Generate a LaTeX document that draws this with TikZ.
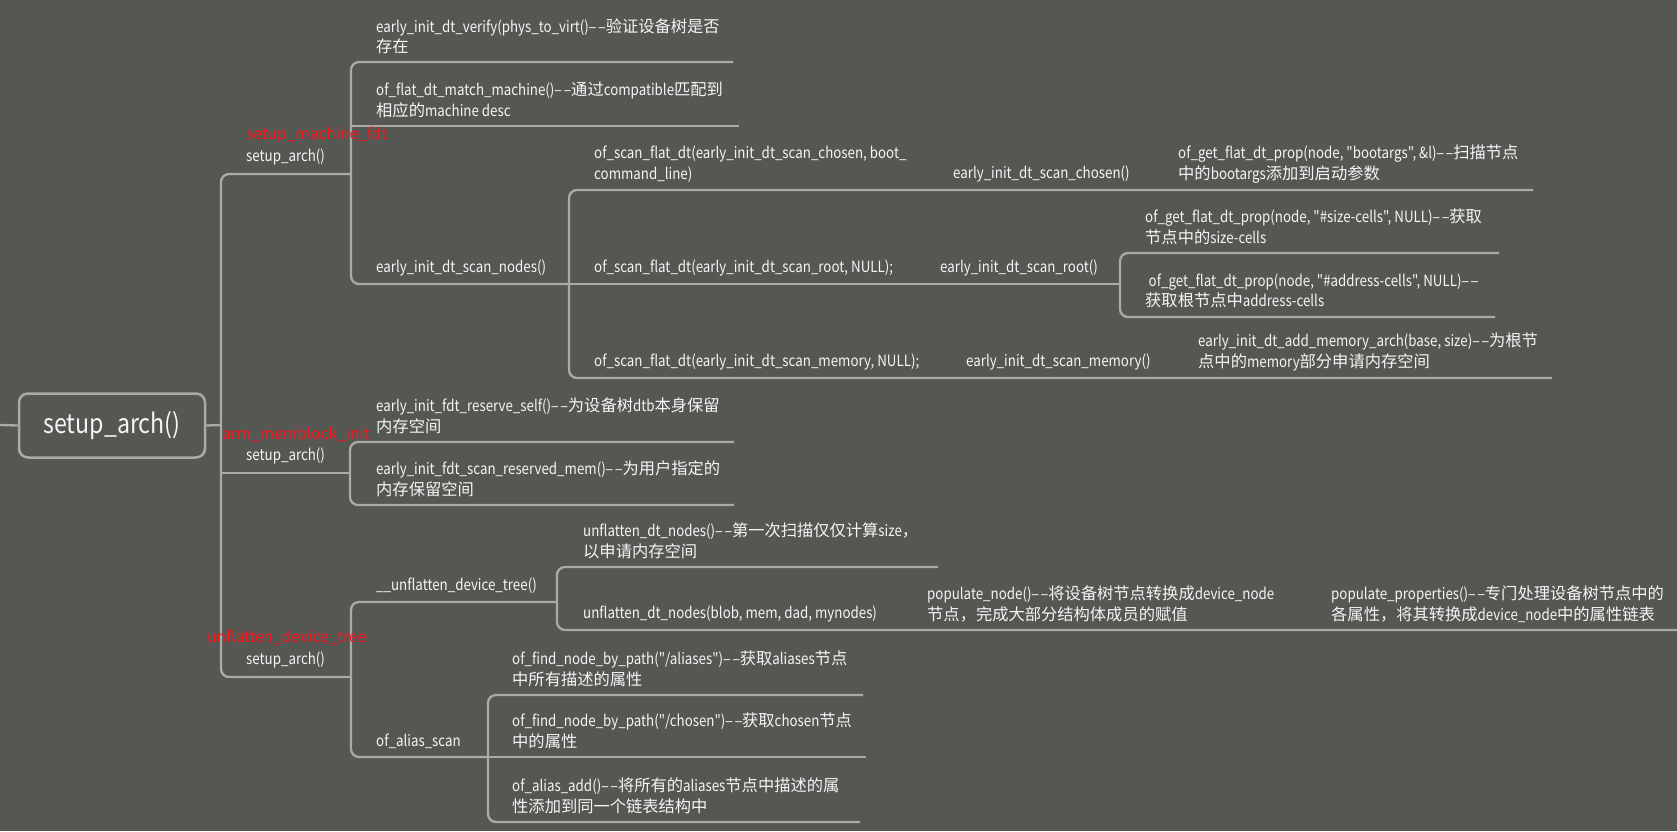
\documentclass[tikz,border=0pt]{standalone}
\usepackage{fontspec}
\usepackage{graphicx}
\setmainfont{Noto Sans CJK SC}
\newfontfamily\lat{Noto Sans CJK SC}[FakeStretch=0.86]
\newfontfamily\zhf{Noto Sans CJK SC}[Scale=1.05]
\newfontfamily\redf{Noto Sans CJK SC}
\newcommand\zh[1]{{\zhf #1}}
\newcommand\dd{\mbox{\scalebox{0.62}[1]{—}\kern2pt\scalebox{0.62}[1]{—}}}
\definecolor{bg}{RGB}{85,87,83}
\definecolor{ln}{RGB}{170,170,168}
\definecolor{tx}{RGB}{245,245,245}
\definecolor{rd}{RGB}{255,20,30}
\begin{document}
\begin{tikzpicture}[x=1pt,y=-1pt,
  line/.style={draw=ln,line width=2.3pt,rounded corners=8pt},
  txt/.style={text=tx,anchor=west,align=left,inner sep=0pt,font=\lat\fontsize{15.5}{20.5}\selectfont},
  redtxt/.style={text=rd,anchor=west,inner sep=0pt,font=\redf\fontsize{15.5}{20.5}\selectfont},
  rootbox/.style={draw=ln,line width=2.5pt,rounded corners=9pt,fill=bg,text=tx,minimum width=186pt,minimum height=64pt,font=\lat\fontsize{27}{30}\selectfont}]
\fill[bg] (0,0) rectangle (1677,831);
\useasboundingbox (0,0) rectangle (1677,831);

% ---------- coordinates ----------
\coordinate (left) at (0,425);
\coordinate (rootj) at (221,425);
\coordinate (fdt-l) at (221,174); \coordinate (fdt-r) at (351,174);
\coordinate (mb-l) at (221,473);  \coordinate (mb-r) at (350,473);
\coordinate (uf-l) at (221,677);  \coordinate (uf-r) at (351,677);
\coordinate (ver-l) at (351,62);  \coordinate (ver-r) at (733,62);
\coordinate (mat-l) at (351,126); \coordinate (mat-r) at (739,126);
\coordinate (sn-l) at (351,284);  \coordinate (sn-r) at (569,284);
\coordinate (ch-l) at (569,190);  \coordinate (ch-r) at (1533,190);
\coordinate (rt-r) at (1120,284);
\coordinate (mem-l) at (569,378); \coordinate (mem-r) at (1552,378);
\coordinate (sz-l) at (1120,253); \coordinate (sz-r) at (1499,253);
\coordinate (ad-l) at (1120,317); \coordinate (ad-r) at (1495,317);
\coordinate (rs-l) at (350,442);  \coordinate (rs-r) at (734,442);
\coordinate (rm-l) at (350,505);  \coordinate (rm-r) at (734,505);
\coordinate (uu-l) at (351,602);  \coordinate (uu-r) at (557,602);
\coordinate (as-l) at (351,757);  \coordinate (as-r) at (488,757);
\coordinate (u1-l) at (557,567);  \coordinate (u1-r) at (938,567);
\coordinate (u2-l) at (557,630);  \coordinate (u2-r) at (1677,630);
\coordinate (al-l) at (488,695);  \coordinate (al-r) at (863,695);
\coordinate (cs-l) at (488,757);  \coordinate (cs-r) at (866,757);
\coordinate (aa-l) at (488,822);  \coordinate (aa-r) at (860,822);

% ---------- root ----------
\node[rootbox] (root) at (112,425.5) {setup\_arch()};

% ---------- connectors ----------
\draw[line] (left) -- (root.west);
\draw[line] (root.east) -- (rootj);
\draw[line] (fdt-r) -- (fdt-l) -- (uf-l) -- (uf-r);
\draw[line] (mb-l) -- (mb-r);
\draw[line] (ver-r) -- (ver-l) -- (sn-l) -- (sn-r);
\draw[line] (mat-l) -- (mat-r);
\draw[line] (ch-r) -- (ch-l) -- (mem-l) -- (mem-r);
\draw[line] (sn-r) -- (rt-r);
\draw[line] (sz-r) -- (sz-l) -- (ad-l) -- (ad-r);
\draw[line] (rs-r) -- (rs-l) -- (rm-l) -- (rm-r);
\draw[line] (uu-r) -- (uu-l) -- (as-l) -- (as-r);
\draw[line] (u1-r) -- (u1-l) -- (u2-l) -- (u2-r);
\draw[line] (al-r) -- (al-l) -- (aa-l) -- (aa-r);
\draw[line] (cs-l) -- (cs-r);

% ---------- setup_machine_fdt branch ----------
\node[redtxt] (fdtred) at (246,135) {setup\_machine\_fdt};
\node[txt] (fdt) at (246,157) {setup\_arch()};
\node[txt] (verify) at (376,36) {early\_init\_dt\_verify(phys\_to\_virt()\dd\zh{验证设备树是否}\\\zh{存在}};
\node[txt] (match) at (376,100) {of\_flat\_dt\_match\_machine()\dd\zh{通过}compatible\zh{匹配到}\\\zh{相应的}machine desc};
\node[txt] (scannodes) at (376,268) {early\_init\_dt\_scan\_nodes()};
\node[txt] (flatchosen) at (594,164) {of\_scan\_flat\_dt(early\_init\_dt\_scan\_chosen, boot\_\\command\_line)};
\node[txt] (scanchosen) at (953,174) {early\_init\_dt\_scan\_chosen()};
\node[txt] (bootargs) at (1178,164) {of\_get\_flat\_dt\_prop(node, "bootargs", \&l)\dd\zh{扫描节点}\\\zh{中的}bootargs\zh{添加到启动参数}};
\node[txt] (flatroot) at (594,268) {of\_scan\_flat\_dt(early\_init\_dt\_scan\_root, NULL);};
\node[txt] (scanroot) at (940,268) {early\_init\_dt\_scan\_root()};
\node[txt] (sizecells) at (1145,227) {of\_get\_flat\_dt\_prop(node, "\#size-cells", NULL)\dd\zh{获取}\\\zh{节点中的}size-cells};
\node[txt] (addrcells) at (1145,291) {\hspace{3.5pt}of\_get\_flat\_dt\_prop(node, "\#address-cells", NULL)\dd\\\zh{获取根节点中}address-cells};
\node[txt] (flatmem) at (594,362) {of\_scan\_flat\_dt(early\_init\_dt\_scan\_memory, NULL);};
\node[txt] (scanmem) at (966,362) {early\_init\_dt\_scan\_memory()};
\node[txt] (addmem) at (1198,352) {early\_init\_dt\_add\_memory\_arch(base, size)\dd\zh{为根节}\\\zh{点中的}memory\zh{部分申请内存空间}};

% ---------- arm_memblock_init branch ----------
\node[redtxt] (mbred) at (222,434) {arm\_memblock\_init};
\node[txt] (mb) at (246,456) {setup\_arch()};
\node[txt] (rself) at (376,416) {early\_init\_fdt\_reserve\_self()\dd\zh{为设备树}dtb\zh{本身保留}\\\zh{内存空间}};
\node[txt] (rmem) at (376,479) {early\_init\_fdt\_scan\_reserved\_mem()\dd\zh{为用户指定的}\\\zh{内存保留空间}};

% ---------- unflatten_device_tree branch ----------
\node[redtxt] (ufred) at (207,637) {unflatten\_device\_tree};
\node[txt] (uf) at (246,660) {setup\_arch()};
\node[txt] (uu) at (376,586) {\_\_unflatten\_device\_tree()};
\node[txt] (ud1) at (583,541) {unflatten\_dt\_nodes()\dd\zh{第一次扫描仅仅计算}size\zh{，}\\\zh{以申请内存空间}};
\node[txt] (ud2) at (583,614) {unflatten\_dt\_nodes(blob, mem, dad, mynodes)};
\node[txt] (popnode) at (927,604) {populate\_node()\dd\zh{将设备树节点转换成}device\_node\\\zh{节点，完成大部分结构体成员的赋值}};
\node[txt] (popprop) at (1331,604) {populate\_properties()\dd\zh{专门处理设备树节点中的}\\\zh{各属性，将其转换成}device\_node\zh{中的属性链表}};
\node[txt] (aliasscan) at (376,741) {of\_alias\_scan};
\node[txt] (aliases) at (512,669) {of\_find\_node\_by\_path("/aliases")\dd\zh{获取}aliases\zh{节点}\\\zh{中所有描述的属性}};
\node[txt] (chosen) at (512,731) {of\_find\_node\_by\_path("/chosen")\dd\zh{获取}chosen\zh{节点}\\\zh{中的属性}};
\node[txt] (aliasadd) at (512,796) {of\_alias\_add()\dd\zh{将所有的}aliases\zh{节点中描述的属}\\\zh{性添加到同一个链表结构中}};
\end{tikzpicture}
\end{document}
